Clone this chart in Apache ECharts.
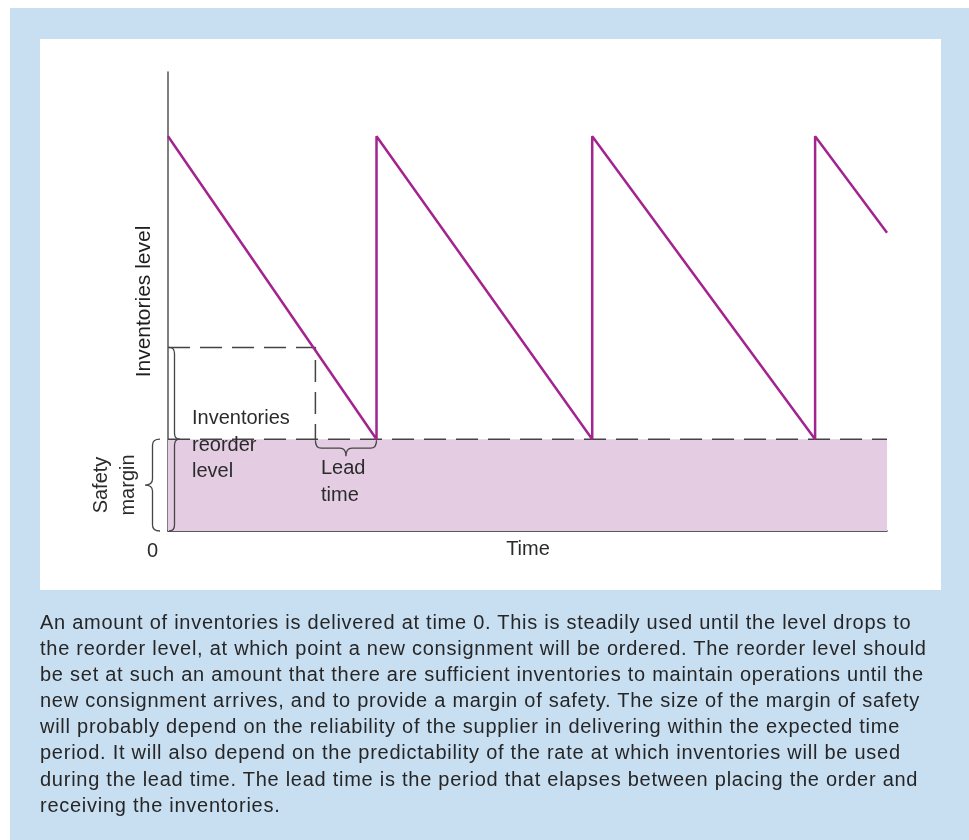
<!DOCTYPE html>
<html>
<head>
<meta charset="utf-8">
<script src="https://cdn.jsdelivr.net/npm/echarts@6/dist/echarts.min.js"></script>
<style>
  html, body { margin: 0; padding: 0; background: #fff; }
  #wrap { position: relative; width: 969px; height: 840px; }
  #main { width: 969px; height: 840px; }
  #caption {
    position: absolute; left: 40px; top: 609px;
    font-family: "Liberation Sans", Arial, sans-serif;
    font-size: 20px; line-height: 26.1px; letter-spacing: 0.74px;
    color: #262626; white-space: pre;
  }
</style>
</head>
<body>
<div id="wrap">
  <div id="main"></div>
  <div id="caption"></div>
</div>
<script>
// inventory level over time (saw-tooth), arbitrary units
var invTime  = [0, 29, 29, 59, 59, 90, 90, 100];
var invLevel = [86, 20, 86, 20, 86, 20, 86, 65];
var safetyLevel = 20;
var reorderLevel = 40;
var reorderTime = 20.5;
var leadEndTime = 29;
var axisMaxX = 100;
var axisMaxY = 100;

var captionLines = [
  'An amount of inventories is delivered at time 0. This is steadily used until the level drops to',
  'the reorder level, at which point a new consignment will be ordered. The reorder level should',
  'be set at such an amount that there are sufficient inventories to maintain operations until the',
  'new consignment arrives, and to provide a margin of safety. The size of the margin of safety',
  'will probably depend on the reliability of the supplier in delivering within the expected time',
  'period. It will also depend on the predictability of the rate at which inventories will be used',
  'during the lead time. The lead time is the period that elapses between placing the order and',
  'receiving the inventories.'
];

document.getElementById('caption').textContent = captionLines.join('\n');

var FONT = 'Liberation Sans, Arial, sans-serif';
var DASH = [22, 10];
var TXT = '#2b2b2b';

var invData = invTime.map(function (t, i) { return [t, invLevel[i]]; });

// braces: from/to/tip in data units, shift/depth in px
var braceDefs = [
  { from: [0, 0], to: [0, safetyLevel], tip: safetyLevel / 2, dir: -1, shift: -8, depth: 15, vertical: true },
  { from: [0, 0], to: [0, reorderLevel], tip: safetyLevel, dir: 1, shift: 1, depth: 11, vertical: true },
  { from: [reorderTime, safetyLevel], to: [leadEndTime, safetyLevel], tip: (reorderTime + leadEndTime) / 2, dir: 1, shift: 1, depth: 16, vertical: false }
];

function bracePath(def, api) {
  var a = api.coord(def.from), b = api.coord(def.to);
  var r = 6, s = def.dir, d = def.depth;
  if (def.vertical) {
    var x0 = a[0] + def.shift;
    var ya = Math.min(a[1], b[1]), yb = Math.max(a[1], b[1]);
    var yt = api.coord([0, def.tip])[1];
    var xs = x0 + s * d / 2, xt = x0 + s * d;
    return 'M' + x0 + ' ' + ya + ' Q' + xs + ' ' + ya + ' ' + xs + ' ' + (ya + r) +
      ' L' + xs + ' ' + (yt - r) + ' Q' + xs + ' ' + yt + ' ' + xt + ' ' + yt +
      ' Q' + xs + ' ' + yt + ' ' + xs + ' ' + (yt + r) +
      ' L' + xs + ' ' + (yb - r) + ' Q' + xs + ' ' + yb + ' ' + x0 + ' ' + yb;
  }
  var y0 = a[1] + def.shift;
  var xa = Math.min(a[0], b[0]), xb = Math.max(a[0], b[0]);
  var xt2 = api.coord([def.tip, 0])[0];
  var ys = y0 + s * d / 2, yt2 = y0 + s * d;
  return 'M' + xa + ' ' + y0 + ' Q' + xa + ' ' + ys + ' ' + (xa + r) + ' ' + ys +
    ' L' + (xt2 - r) + ' ' + ys + ' Q' + xt2 + ' ' + ys + ' ' + xt2 + ' ' + yt2 +
    ' Q' + xt2 + ' ' + ys + ' ' + (xt2 + r) + ' ' + ys +
    ' L' + (xb - r) + ' ' + ys + ' Q' + xb + ' ' + ys + ' ' + xb + ' ' + y0;
}

function txt(x, y, text, extra) {
  var o = {
    type: 'text', x: x, y: y, z: 20,
    style: { text: text, font: '20px ' + FONT, fill: TXT, align: 'left', verticalAlign: 'middle', lineHeight: 26.5 }
  };
  if (extra) { for (var k in extra) { o.style[k] = extra[k]; } }
  return o;
}

var graphics = [
  { type: 'rect', z: -10, shape: { x: 10, y: 8, width: 959, height: 832 }, style: { fill: '#c8dff2' } },
  { type: 'rect', z: -9, shape: { x: 40, y: 39, width: 901, height: 551 }, style: { fill: '#ffffff' } },
  {
    type: 'text', x: 115, y: 485, rotation: Math.PI / 2, z: 20,
    style: { text: 'Safety\nmargin', font: '20px ' + FONT, fill: TXT, align: 'center', verticalAlign: 'middle', lineHeight: 27 }
  },
  txt(192, 445, 'Inventories\nreorder\nlevel'),
  txt(321, 482, 'Lead\ntime'),
  txt(528, 549, 'Time', { align: 'center' })
];

var chart = echarts.init(document.getElementById('main'), null, { renderer: 'canvas' });
chart.setOption({
  animation: false,
  backgroundColor: '#ffffff',
  grid: { left: 168, right: 82, top: 72, bottom: 309 },
  xAxis: {
    type: 'value', min: 0, max: axisMaxX,
    axisLine: { show: true, lineStyle: { color: '#222', width: 1.5 } },
    axisTick: { show: false },
    splitLine: { show: false },
    axisLabel: {
      formatter: function (v) { return v === 0 ? '0' : ''; },
      align: 'right', margin: 10, padding: [0, 10, 0, 0],
      fontFamily: FONT, fontSize: 20, color: TXT
    }
  },
  yAxis: {
    type: 'value', min: 0, max: axisMaxY,
    name: 'Inventories level', nameLocation: 'middle', nameRotate: 90, nameGap: 13,
    nameTextStyle: { fontFamily: FONT, fontSize: 21, color: '#1e1e1e' },
    axisLine: { show: true, lineStyle: { color: '#555', width: 1.5 } },
    axisTick: { show: false },
    axisLabel: { show: false },
    splitLine: { show: false }
  },
  graphic: graphics,
  series: [
    {
      name: 'Safety margin', type: 'line', symbol: 'none', z: 1,
      data: [[0, safetyLevel], [axisMaxX, safetyLevel]],
      lineStyle: { color: '#444', width: 1.5, type: DASH },
      areaStyle: { color: '#e4cce3', opacity: 1 }
    },
    {
      name: 'Reorder level', type: 'line', symbol: 'none', z: 2,
      data: [[0, reorderLevel], [reorderTime, reorderLevel], [reorderTime, safetyLevel]],
      lineStyle: { color: '#444', width: 1.5, type: DASH }
    },
    {
      name: 'Inventories', type: 'line', symbol: 'none', z: 5,
      data: invData,
      lineStyle: { color: '#a3238f', width: 2.5 }
    },
    {
      name: 'Braces', type: 'custom', z: 6, clip: false,
      data: braceDefs.map(function (d, i) { return [i]; }),
      renderItem: function (params, api) {
        var def = braceDefs[params.dataIndex];
        return {
          type: 'path',
          shape: { pathData: bracePath(def, api) },
          style: { stroke: '#444', fill: null, lineWidth: 1.3 }
        };
      }
    }
  ]
});
</script>
</body>
</html>
